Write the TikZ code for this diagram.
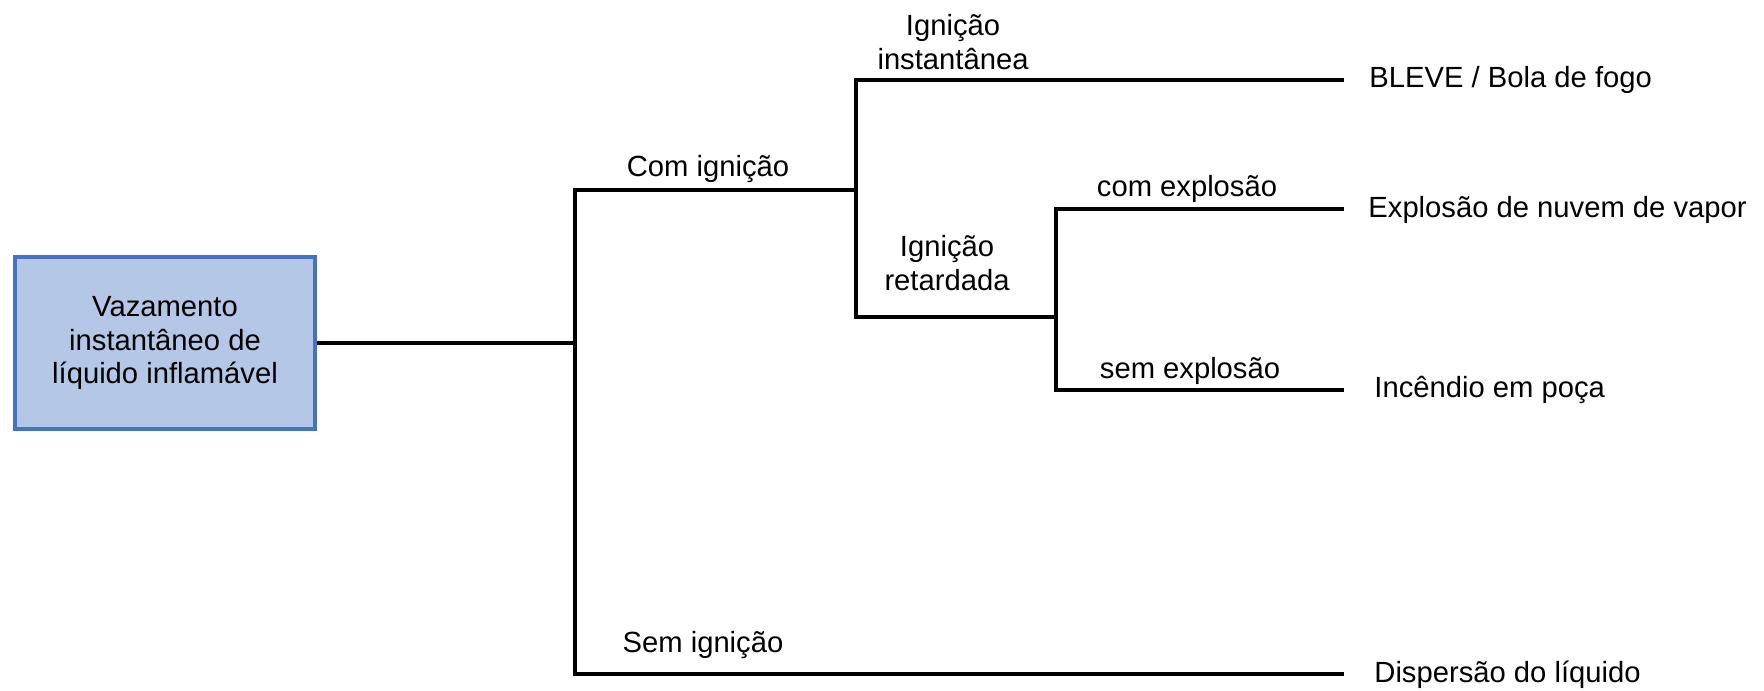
\documentclass[tikz,border=0pt]{standalone}
\usepackage{fontspec}
\setmainfont{Liberation Sans}
\definecolor{boxfill}{HTML}{B4C7E7}
\definecolor{boxline}{HTML}{4472C4}
\begin{document}
\begin{tikzpicture}[x=0.5pt,y=-0.5pt,
  txt/.style={font=\fontsize{14.6}{16.6}\selectfont, inner sep=0pt},
  rootbox/.style={txt, draw=boxline, fill=boxfill, line width=2pt,
    minimum width=150pt, minimum height=86pt, align=center},
  branch/.style={line width=1.75pt, line join=miter},
  lbl/.style={txt, align=center},
  outcome/.style={txt, anchor=west}]
\useasboundingbox (0,0) rectangle (1764,690);

% initiating event
\node[rootbox] (root) at (165,343) {Vazamento\\instantâneo de\\líquido inflamável};

% branch points
\coordinate (j1) at (575,343);
\coordinate (j2) at (856,190);
\coordinate (j3) at (1056,317);

% branch ends
\coordinate (e1) at (1344,80);
\coordinate (e2) at (1344,209);
\coordinate (e3) at (1344,390);
\coordinate (e4) at (1344,674);

% tree
\draw[branch] (root.east) -- (j1);
\draw[branch] (j1) |- (j2);
\draw[branch] (j1) |- (e4);
\draw[branch] (j2) |- (e1);
\draw[branch] (j2) |- (j3);
\draw[branch] (j3) |- (e2);
\draw[branch] (j3) |- (e3);

% branch labels
\node[lbl] (lcom) at (708,169) {Com ignição};
\node[lbl] (lsem) at (703,645) {Sem ignição};
\node[lbl] (linst) at (953,42) {Ignição\\instantânea};
\node[lbl] (lret) at (947,263) {Ignição\\retardada};
\node[lbl] (lcexp) at (1187,189) {com explosão};
\node[lbl] (lsexp) at (1190,371) {sem explosão};

% outcomes
\node[outcome] (o1) at (1369,80) {BLEVE / Bola de fogo};
\node[outcome] (o2) at (1368,210) {Explosão de nuvem de vapor};
\node[outcome] (o3) at (1374,390) {Incêndio em poça};
\node[outcome] (o4) at (1374,675) {Dispersão do líquido};
\end{tikzpicture}
\end{document}
